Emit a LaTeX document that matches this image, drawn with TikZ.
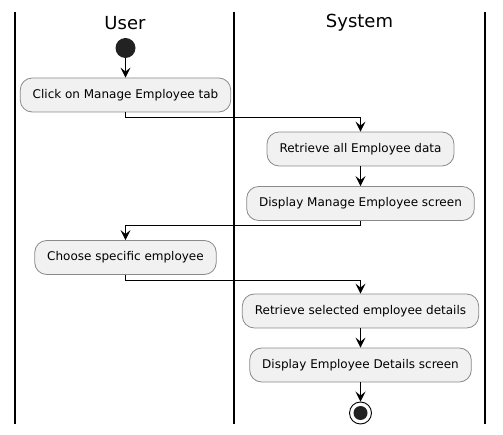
\documentclass[tikz,border=0pt]{standalone}
\usepackage{fontspec}
\setmainfont{DejaVu Sans}
\usetikzlibrary{arrows.meta}
\definecolor{boxfill}{HTML}{F1F1F1}
\definecolor{boxline}{HTML}{8A8A8A}
\definecolor{dot}{HTML}{222222}
\begin{document}
\begin{tikzpicture}[x=1pt,y=-1pt,
  act/.style={draw=boxline, line width=0.8pt, fill=boxfill, rounded corners=12pt,
    minimum height=34pt, inner xsep=12.5pt, inner ysep=0pt,
    font=\fontsize{12pt}{14pt}\selectfont, anchor=center},
  lane/.style={line width=1.4pt, black},
  title/.style={font=\fontsize{18pt}{20pt}\selectfont},
  conn/.style={line width=0.9pt, -{Stealth[length=10pt,width=10pt,inset=4pt]}}
]
\useasboundingbox (0,0) rectangle (503,435);
% lanes
\draw[lane] (15,12) -- (15,424);
\draw[lane] (234,12) -- (234,424);
\draw[lane] (485,12) -- (485,424);
\node[title] (tu) at (125,23) {User};
\node[title] (ts) at (359.5,23) {System};
% nodes
\node[circle, fill=dot, minimum size=20pt, inner sep=0pt] (start) at (125.5,48) {};
\node[act] (b1) at (125.5,95) {Click on Manage Employee tab};
\node[act] (b2) at (360.5,149) {Retrieve all Employee data};
\node[act] (b3) at (360.5,203.5) {Display Manage Employee screen};
\node[act] (b4) at (125.5,257.5) {Choose specific employee};
\node[act] (b5) at (360.5,311) {Retrieve selected employee details};
\node[act] (b6) at (360.5,365) {Display Employee Details screen};
\node[circle, draw=black, line width=0.9pt, fill=white, minimum size=22pt, inner sep=0pt] (end) at (360.5,413) {};
\node[circle, fill=dot, minimum size=14pt, inner sep=0pt] (endin) at (end.center) {};
% connectors
\draw[conn] (start.south) -- (b1.north);
\draw[conn] (b1.south) -- ++(0,5) -| (b2.north);
\draw[conn] (b2.south) -- (b3.north);
\draw[conn] (b3.south) -- ++(0,5) -| (b4.north);
\draw[conn] (b4.south) -- ++(0,5.5) -| (b5.north);
\draw[conn] (b5.south) -- (b6.north);
\draw[conn] (b6.south) -- (end.north);
\end{tikzpicture}
\end{document}
